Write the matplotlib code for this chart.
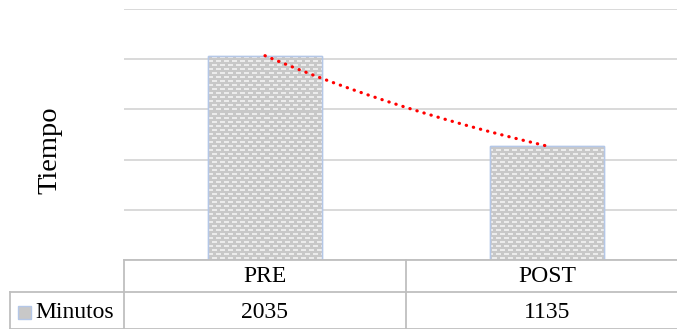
import numpy as np
import matplotlib.pyplot as plt
from matplotlib.lines import Line2D
from matplotlib.patches import Rectangle

categories = ["PRE", "POST"]
minutos = [2035, 1135]
series_name = "Minutos"
y_label = "Tiempo"

plt.rcParams["font.family"] = ["Liberation Serif", "DejaVu Serif"]

W, H = 677, 329
fig = plt.figure(figsize=(W / 100, H / 100), dpi=100)

# plot area in pixels (right edge runs past the figure)
left, right, top, bottom = 124, 688, 9, 260
ax = fig.add_axes([left / W, 1 - bottom / H, (right - left) / W, (bottom - top) / H])

x = np.arange(len(categories))
bars = ax.bar(x, minutos, width=0.405, color="#c8c8c8", edgecolor="#b4c7e7",
              linewidth=1.0, zorder=2)

# brick-like texture: staggered light dashes on gray
tw, th = right - left, bottom - top
tex = np.empty((th, tw, 3))
tex[:] = np.array([200, 200, 200]) / 255
for r in range(th):
    if r % 4 < 2:
        off = ((r // 4) % 2) * 4
        cols = (np.arange(tw) + off) % 8 < 5
        tex[r, cols] = np.array([236, 236, 236]) / 255
for b in bars:
    im = ax.imshow(tex, extent=(-0.5, 1.5, 0, 2500), aspect="auto",
                   interpolation="nearest", zorder=2.5)
    im.set_clip_path(b)
    ax.add_patch(Rectangle(b.get_xy(), b.get_width(), b.get_height(), fill=False,
                           edgecolor="#b4c7e7", linewidth=1.0, zorder=3))

# exponential trendline through the two points
bcoef = np.log(minutos[1] / minutos[0])
xt = np.linspace(0, 1, 200)
yt = minutos[0] * np.exp(bcoef * xt)
ax.plot(xt, yt, color="#ff0000", linewidth=2.3, dashes=(0.1, 2.2),
        dash_capstyle="round", zorder=4)

ax.set_xlim(-0.5, 1.5)
ax.set_ylim(0, 2500)
ax.set_yticks(range(0, 2501, 500))
ax.set_xticks([])
ax.tick_params(left=False, labelleft=False)
ax.yaxis.grid(True, color="#d9d9d9", linewidth=1.4)
ax.set_axisbelow(True)
for s in ax.spines.values():
    s.set_visible(False)

fig.text(50 / W, 1 - 150 / H, y_label, rotation=90, ha="center", va="center", fontsize=20.5)


# data table below the plot
def px(xp, yp):
    return xp / W, 1 - yp / H


line_kw = dict(color="#bfbfbf", linewidth=1.3)
col_w = (right - left) / len(categories)
row_y = 292
table_lines = [
    ((left, right), (bottom, bottom)),
    ((10, right), (row_y, row_y)),
    ((10, right), (328.5, 328.5)),
    ((left, left), (bottom, H)),
    ((10, 10), (row_y, H)),
]
for i in range(1, len(categories) + 1):
    xc = left + i * col_w
    table_lines.append(((xc, xc), (bottom, H)))
for xs, ys in table_lines:
    p0, p1 = px(xs[0], ys[0]), px(xs[1], ys[1])
    fig.add_artist(Line2D([p0[0], p1[0]], [p0[1], p1[1]], transform=fig.transFigure, **line_kw))

for i, (cat, v) in enumerate(zip(categories, minutos)):
    xc = left + (i + 0.5) * col_w
    fig.text(*px(xc, 277), cat, ha="center", va="center", fontsize=17)
    fig.text(*px(xc, 312), str(v), ha="center", va="center", fontsize=17)

# legend key and series name
k0 = px(18, 319)
fig.add_artist(Rectangle(k0, 13 / W, 13 / H, transform=fig.transFigure,
                         facecolor="#c8c8c8", edgecolor="#b4c7e7", linewidth=1.0))
fig.text(*px(35, 312), series_name, ha="left", va="center", fontsize=17)

fig.savefig("out.png", dpi=100)
